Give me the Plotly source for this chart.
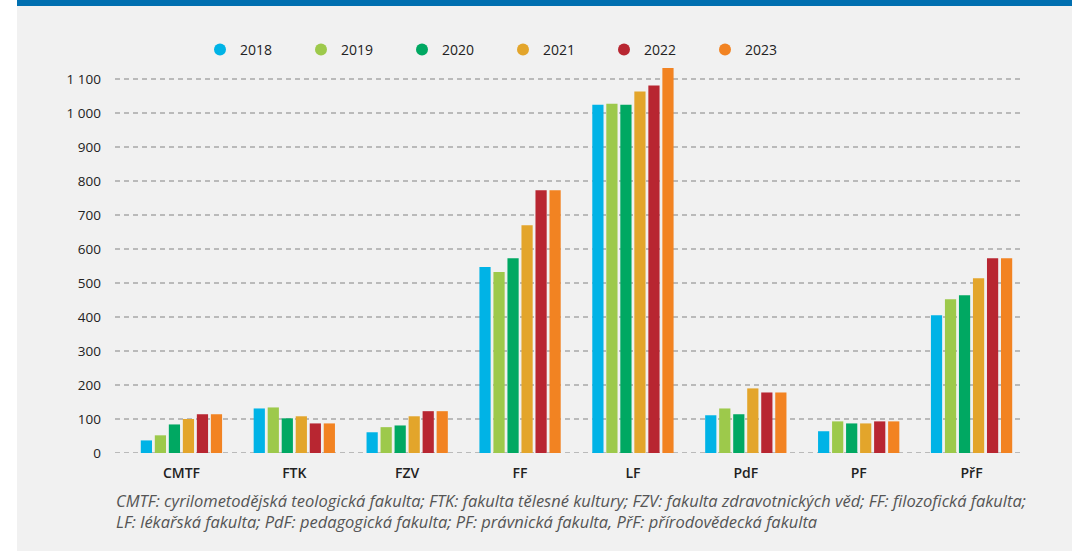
import plotly.graph_objects as go

categories = ["CMTF", "FTK", "FZV", "FF", "LF", "PdF", "PF", "PřF"]
years = ["2018", "2019", "2020", "2021", "2022", "2023"]
values = {
    "2018": [37, 131, 61, 547, 1024, 111, 64, 405],
    "2019": [52, 134, 76, 532, 1027, 131, 93, 452],
    "2020": [84, 102, 81, 573, 1024, 114, 87, 464],
    "2021": [100, 108, 108, 670, 1063, 190, 87, 514],
    "2022": [114, 87, 123, 773, 1081, 178, 93, 573],
    "2023": [114, 87, 123, 773, 1132, 178, 93, 573],
}
colors = ["#00b3e6", "#9dc94b", "#00a862", "#e3a52b", "#b82631", "#f28322"]
tick_vals = [0, 100, 200, 300, 400, 500, 600, 700, 800, 900, 1000, 1100]
tick_text = ["0", "100", "200", "300", "400", "500", "600", "700", "800", "900", "1 000", "1 100"]
footnote = ("CMTF: cyrilometodějská teologická fakulta; FTK: fakulta tělesné kultury; FZV: fakulta zdravotnických věd; FF: filozofická fakulta;<br>"
            "LF: lékařská fakulta; PdF: pedagogická fakulta; PF: právnická fakulta, PřF: přírodovědecká fakulta")

W, H = 1072, 551
L, R, T, B = 125, 44, 62, 98
pw, ph = W - L - R, H - T - B

def px_x(px):
    return (px - L) / pw

def px_y(py):
    return (H - B - py) / ph

fig = go.Figure()
for y, c in zip(years, colors):
    fig.add_trace(go.Bar(x=categories, y=values[y], name=y, marker=dict(color=c, line=dict(width=0)),
                         showlegend=False))
for y, c in zip(years, colors):
    fig.add_trace(go.Scatter(x=[None], y=[None], mode="markers", name=y,
                             marker=dict(color=c, size=15, symbol="circle")))

shapes = [
    dict(type="rect", xref="paper", yref="paper", x0=px_x(-5), x1=px_x(17), y0=px_y(-5), y1=px_y(560),
         fillcolor="white", line=dict(width=0), layer="below"),
    dict(type="rect", xref="paper", yref="paper", x0=px_x(17), x1=px_x(1080), y0=px_y(6), y1=px_y(-5),
         fillcolor="#006fb0", line=dict(width=0)),
]
for v in tick_vals:
    shapes.append(dict(type="line", xref="paper", yref="y", x0=px_x(115), x1=px_x(1022), y0=v, y1=v,
                       line=dict(color="#a8a8a8", width=1.5, dash="5px,4px"), layer="below"))

fig.update_layout(
    width=W, height=H,
    margin=dict(l=L, r=R, t=T, b=B),
    paper_bgcolor="#f1f1f1", plot_bgcolor="rgba(0,0,0,0)",
    font=dict(family="Open Sans", color="#222222", size=13),
    barmode="group", bargap=0.255, bargroupgap=0.2,
    legend=dict(orientation="h", x=px_x(200), xanchor="left", y=px_y(50), yanchor="middle",
                entrywidth=56, entrywidthmode="pixels", font=dict(size=14, color="#222222"),
                bgcolor="rgba(0,0,0,0)", itemsizing="constant"),
    xaxis=dict(showgrid=False, showline=False, ticks="", zeroline=False,
               tickfont=dict(size=14, color="#222222", weight=600), ticklabelstandoff=10),
    yaxis=dict(range=[0, 1150], tickvals=tick_vals, ticktext=tick_text, showgrid=False, zeroline=False,
               showline=False, ticks="", tickfont=dict(size=13.5, color="#222222"), ticklabelstandoff=23),
    shapes=shapes,
    annotations=[
        dict(text=footnote, xref="paper", yref="paper", x=px_x(114), y=px_y(487), xanchor="left", yanchor="top",
             align="left", showarrow=False,
             font=dict(family="Open Sans", size=16.5, color="#555555", style="italic")),
    ],
)

fig.write_html("out.html", config={"displayModeBar": False},
               post_script="document.body.style.margin='0px';document.body.style.overflow='hidden';")
